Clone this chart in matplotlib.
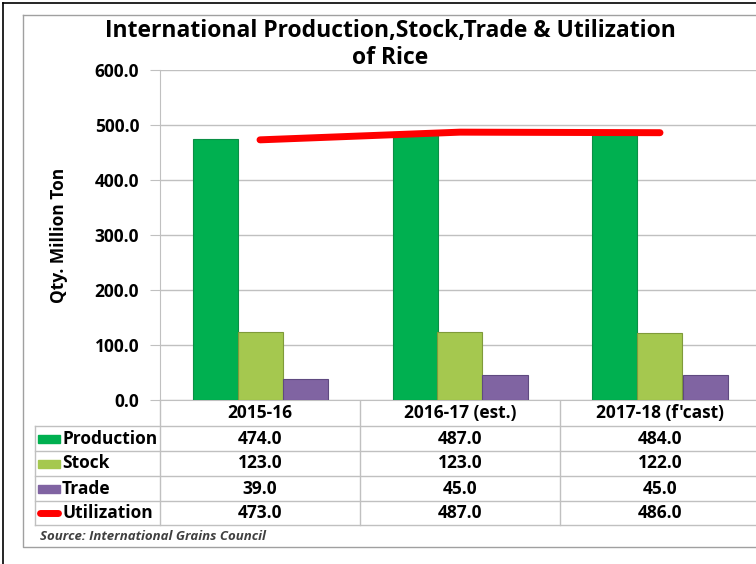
import numpy as np
import matplotlib.pyplot as plt
from matplotlib.patches import Rectangle

plt.rcParams['font.family'] = ['Open Sans', 'DejaVu Sans']

categories = ['2015-16', '2016-17 (est.)', "2017-18 (f'cast)"]
production = [474.0, 487.0, 484.0]
stock = [123.0, 123.0, 122.0]
trade = [39.0, 45.0, 45.0]
utilization = [473.0, 487.0, 486.0]

series_names = ['Production', 'Stock', 'Trade', 'Utilization']
series_values = [production, stock, trade, utilization]

GREEN = '#00B050'
OLIVE = '#A5C84F'
PURPLE = '#8064A2'
RED = '#FF0000'
GRID = '#C0C0C0'
BOLD = 'bold'

W, H = 756, 564


def fx(px):
    return px / W


def fy(py):
    return 1 - py / H


fig = plt.figure(figsize=(W / 100, H / 100), dpi=100)

# main plot area, runs slightly past the right edge like the original crop
ax = fig.add_axes([fx(160), fy(400), fx(600), (400 - 70) / H])
x = np.arange(len(categories))
bw = 0.225
ax.bar(x - bw, production, bw, color=GREEN, edgecolor='#0A8F45', linewidth=0.8, zorder=3)
ax.bar(x, stock, bw, color=OLIVE, edgecolor='#7F9A3A', linewidth=0.8, zorder=3)
ax.bar(x + bw, trade, bw, color=PURPLE, edgecolor='#5F4A80', linewidth=0.8, zorder=3)
ax.plot(x, utilization, color=RED, linewidth=5, solid_capstyle='round', zorder=4)

ax.set_xlim(-0.5, 2.5)
ax.set_ylim(0, 600)
ax.set_yticks(np.arange(0, 601, 100))
ax.set_yticklabels(['%.1f' % v for v in np.arange(0, 601, 100)],
                   fontsize=12.5, fontweight=BOLD)
ax.set_xticks([])
ax.yaxis.grid(True, color=GRID, linewidth=1)
ax.set_axisbelow(True)
for s in ['top', 'right']:
    ax.spines[s].set_visible(False)
ax.spines['left'].set_color(GRID)
ax.spines['bottom'].set_color(GRID)
ax.tick_params(axis='y', length=7, color=GRID, pad=8)
ax.set_ylabel('Qty. Million Ton', fontsize=12.5, fontweight=BOLD, labelpad=19)

# overlay in pixel coordinates for title, data table and borders
ov = fig.add_axes([0, 0, 1, 1], zorder=-1)
ov.set_xlim(0, W)
ov.set_ylim(H, 0)
ov.axis('off')

# frame lines
ov.plot([3, 3], [3, H], color='black', linewidth=1.2)
ov.plot([3, W], [3, 3], color='black', linewidth=1.2)
ov.plot([23, 23, W], [15, 547, 547], color='#A0A0A0', linewidth=1)
ov.plot([23, W], [15, 15], color='#A0A0A0', linewidth=1)

fig.text(fx(390), fy(31), 'International Production,Stock,Trade & Utilization',
         ha='center', va='center', fontsize=16.5, fontweight=BOLD)
fig.text(fx(390), fy(58), 'of Rice', ha='center', va='center',
         fontsize=16.5, fontweight=BOLD)

# data table
row_tops = [426, 451, 476, 501, 525]
col_edges = [160, 360, 560, 760]
for yy in row_tops:
    ov.plot([35, 760], [yy, yy], color=GRID, linewidth=1)
ov.plot([35, 35], [426, 525], color=GRID, linewidth=1)
for xx in col_edges[:3]:
    ov.plot([xx, xx], [400, 525], color=GRID, linewidth=1)

centers = [(col_edges[i] + col_edges[i + 1]) / 2 for i in range(3)]
for c, cat in zip(centers, categories):
    ov.text(c, 413, cat, ha='center', va='center', fontsize=12.5, fontweight=BOLD)

key_colors = [GREEN, OLIVE, PURPLE, RED]
for r, (name, vals, col) in enumerate(zip(series_names, series_values, key_colors)):
    yc = (row_tops[r] + row_tops[r + 1]) / 2
    if name == 'Utilization':
        ov.plot([40, 58], [yc, yc], color=col, linewidth=5, solid_capstyle='round')
    else:
        ov.add_patch(Rectangle((38, yc - 4), 22, 8, color=col))
    ov.text(62, yc, name, ha='left', va='center', fontsize=12.5, fontweight=BOLD)
    for c, v in zip(centers, vals):
        ov.text(c, yc, '%.1f' % v, ha='center', va='center',
                fontsize=12.5, fontweight=BOLD)

ov.text(40, 537, 'Source: International Grains Council', ha='left', va='center',
        fontsize=9.5, fontweight=BOLD, fontstyle='italic', color='#404040')

fig.savefig('out.png', dpi=100)
